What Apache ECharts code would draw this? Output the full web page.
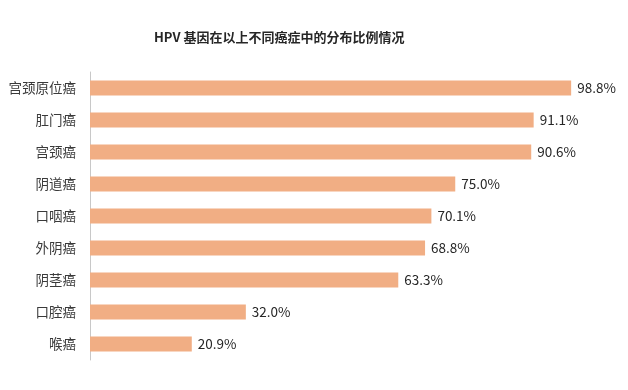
<!DOCTYPE html>
<html>
<head>
<meta charset="utf-8">
<script src="https://cdn.jsdelivr.net/npm/echarts@6/dist/echarts.min.js"></script>
<style>html,body{margin:0;padding:0;background:#fff;}#c{width:628px;height:390px;}</style>
</head>
<body>
<div id="c"></div>
<script>
const titleText = 'HPV 基因在以上不同癌症中的分布比例情况';
const categories = ['宫颈原位癌', '肛门癌', '宫颈癌', '阴道癌', '口咽癌', '外阴癌', '阴茎癌', '口腔癌', '喉癌'];
const values = [98.8, 91.1, 90.6, 75.0, 70.1, 68.8, 63.3, 32.0, 20.9];

const chart = echarts.init(document.getElementById('c'));
chart.setOption({
  backgroundColor: '#ffffff',
  animation: false,
  title: {
    text: titleText,
    left: 154,
    top: 31,
    padding: 0,
    textStyle: { fontFamily: 'Noto Sans CJK SC', fontSize: 13, fontWeight: 'bold', color: '#262626' }
  },
  grid: { left: 90, right: 51, top: 72, bottom: 30, containLabel: false },
  xAxis: {
    type: 'value', min: 0, max: 100,
    show: false
  },
  yAxis: {
    type: 'category',
    inverse: true,
    data: categories,
    axisLine: { show: true, lineStyle: { color: '#c8c8c8', width: 1 } },
    axisTick: { show: false },
    axisLabel: { margin: 14, fontFamily: 'Noto Sans CJK SC', fontSize: 13.5, color: '#3a3a3a' }
  },
  series: [{
    type: 'bar',
    data: values,
    barWidth: 15,
    itemStyle: { color: '#f1ae84' },
    label: {
      show: true,
      position: 'right',
      distance: 6,
      formatter: p => p.value.toFixed(1) + '%',
      fontFamily: 'Noto Sans CJK SC',
      fontSize: 13.5,
      color: '#262626'
    }
  }]
});
</script>
</body>
</html>
